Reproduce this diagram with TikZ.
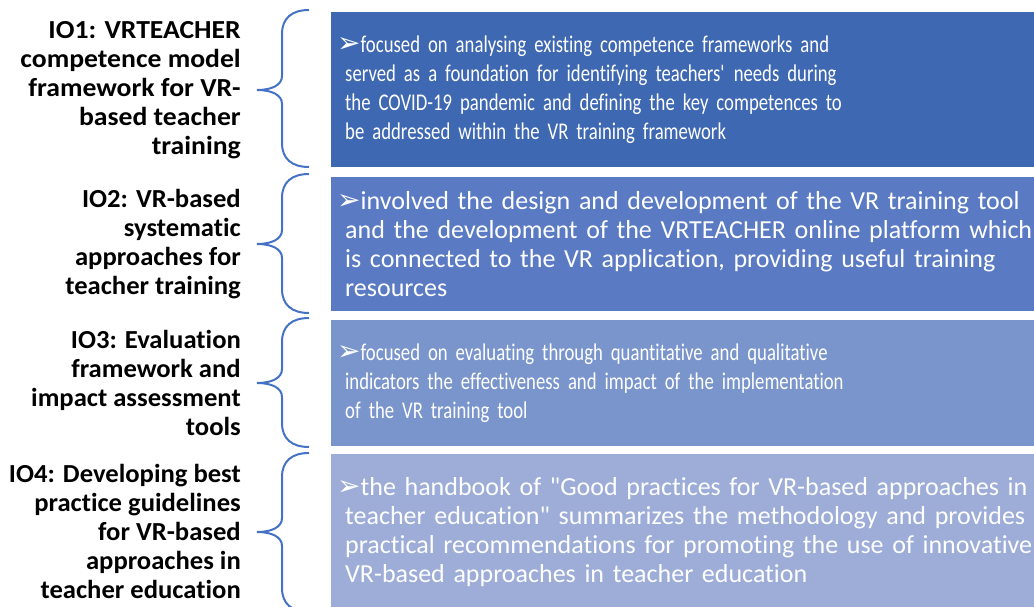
\documentclass[tikz,border=0pt]{standalone}
\usepackage{fontspec}
\setmainfont{Carlito}[Ligatures=NoCommon]
\newfontfamily\arrowfont{DejaVu Sans}
\newfontfamily\narrowfont[FakeStretch=0.78, Ligatures=NoCommon]{Carlito}
\newfontfamily\boldfont[FakeStretch=1.025, Ligatures=NoCommon]{Carlito Bold}
\newfontfamily\wideboldfont[FakeStretch=1.065, Ligatures=NoCommon]{Carlito Bold}
\usepackage{xcolor}
\usepackage{tikz}

\definecolor{bracecol}{HTML}{4472C4}
\definecolor{ioA}{HTML}{3E68B1}
\definecolor{ioB}{HTML}{5A7BC3}
\definecolor{ioC}{HTML}{7A95CC}
\definecolor{ioD}{HTML}{9DADD8}

\newcommand{\ioarrow}{\hspace*{-8pt}{\arrowfont\fontsize{28}{29}\selectfont ➢}}

\tikzset{
  iolabel/.style={anchor=east, align=right, inner sep=0pt,
    font=\fontsize{26}{29}\boldfont},
  iobox/.style={anchor=north west, text=white, align=left, text width=740pt,
    inner xsep=14pt, inner ysep=0pt, font=\fontsize{26}{29}\selectfont},
  narrowbox/.style={iobox, font=\fontsize{24}{29}\narrowfont},
  iobrace/.style={draw=bracecol, line width=2pt},
}

\begin{document}
\begin{tikzpicture}[x=1pt, y=-1pt]
  \useasboundingbox (0,0) rectangle (1034,607);
  \clip (0,0) rectangle (1034,607);
  % 色块
  \node[narrowbox, fill=ioA, minimum height=155pt] (box1) at (331,12)
    {\ioarrow focused on analysing existing competence frameworks and\\
     served as a foundation for identifying teachers\textquotesingle{} needs during\\
     the COVID-19 pandemic and defining the key competences to\\
     be addressed within the VR training framework};
  \node[iobox, fill=ioB, minimum height=134pt] (box2) at (331,177)
    {\ioarrow involved the design and development of the VR training tool\\
     and the development of the VRTEACHER online platform which\\
     is connected to the VR application, providing useful training\\
     resources};
  \node[narrowbox, fill=ioC, minimum height=126pt] (box3) at (331,320)
    {\ioarrow focused on evaluating through quantitative and qualitative\\
     indicators the effectiveness and impact of the implementation\\
     of the VR training tool};
  \node[iobox, fill=ioD, minimum height=156pt] (box4) at (331,454)
    {\ioarrow the handbook of \textquotedbl Good practices for VR-based approaches in\\
     teacher education\textquotedbl{} summarizes the methodology and provides\\
     practical recommendations for promoting the use of innovative\\
     VR-based approaches in teacher education};
  % 左侧标题
  \node[iolabel, font=\fontsize{26}{29}\wideboldfont] (io1) at (241,90) {IO1: VRTEACHER\\competence model\\framework for VR-\\based teacher\\training};
  \node[iolabel] (io2) at (241,244) {IO2: VR-based\\systematic\\approaches for\\teacher training};
  \node[iolabel] (io3) at (241,383) {IO3: Evaluation\\framework and\\impact assessment\\tools};
  \node[iolabel] (io4) at (241,531) {IO4: Developing best\\practice guidelines\\for VR-based\\approaches in\\teacher education};
  % 括号
  \foreach \top/\bot/\mid in {10/167/90, 174/313/244, 318/447/383, 453/612/532}
    \draw[iobrace] (309,\top) .. controls (292,\top) and (282,\top+8) .. (282,\top+24)
      -- (282,\mid-14) .. controls (282,\mid-5) and (272,\mid) .. (257,\mid)
      .. controls (272,\mid) and (282,\mid+5) .. (282,\mid+14)
      -- (282,\bot-24) .. controls (282,\bot-8) and (292,\bot) .. (309,\bot);
\end{tikzpicture}
\end{document}
